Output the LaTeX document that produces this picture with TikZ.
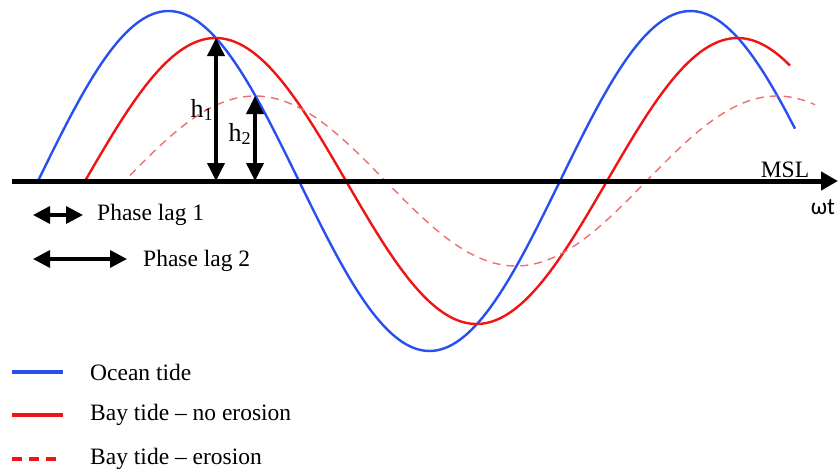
\documentclass[tikz,border=0pt]{standalone}
\usepackage{fontspec}
\setmainfont{Liberation Serif}
\newfontfamily\omegafont{Carlito}
\usetikzlibrary{arrows.meta,positioning}

\begin{document}
\begin{tikzpicture}[x=1pt, y=-1pt,
      txt/.style={font=\fontsize{23.5}{27}\selectfont, inner sep=0pt},
      hlbl/.style={font=\fontsize{26}{30}\selectfont, inner sep=0pt},
      tide/.style={line width=2.4pt},
      ocean/.style={tide, draw={rgb,255:red,40;green,80;blue,240}},
      bay/.style={tide, draw={rgb,255:red,240;green,20;blue,20}},
      baydash/.style={line width=1.4pt, draw={rgb,255:red,240;green,110;blue,110},
        dash pattern=on 8pt off 6pt},
      height/.style={{Triangle[length=18pt,width=17pt]}-{Triangle[length=18pt,width=17pt]},
        line width=3.6pt},
      lag/.style={{Triangle[length=17pt,width=17pt]}-{Triangle[length=17pt,width=17pt]},
        line width=3.4pt},
    ]
    \useasboundingbox (0,0) rectangle (838,474);

    % Tide curves
    \draw[ocean] plot[domain=38:795, samples=200]
      (\x, {181-170*sin((\x-38)/522*360)});
    \draw[bay] plot[domain=85:790, samples=200]
      (\x, {181-143*sin((\x-85)/522*360)});
    \draw[baydash] plot[domain=130:815, samples=200]
      (\x, {181-85*sin((\x-124.5)/522*360)});

    % Mean sea level
    \coordinate (msl0) at (12,181);
    \coordinate (msl1) at (838,181);
    \draw[line width=5pt, -{Triangle[length=17pt,width=18pt]}] (msl0) -- (msl1);
    \node[txt, anchor=base] (msl) at (785,177) {MSL};
    \node[txt, anchor=base] (wt) at (823,214) {\omegafont ωt};

    % Amplitudes
    \coordinate (h1top) at (216,38);
    \coordinate (h1bot) at (216,181);
    \coordinate (h2top) at (255,96);
    \coordinate (h2bot) at (255,181);
    \draw[height] (h1bot) -- (h1top);
    \draw[height] (h2bot) -- (h2top);
    \node[hlbl] (h1) at (202,110) {h\textsubscript{1}};
    \node[hlbl] (h2) at (240,134) {h\textsubscript{2}};

    % Phase lags
    \coordinate (lag1a) at (33,215);
    \coordinate (lag1b) at (83,215);
    \coordinate (lag2a) at (33,259);
    \coordinate (lag2b) at (127,259);
    \draw[lag] (lag1a) -- (lag1b);
    \draw[lag] (lag2a) -- (lag2b);
    \node[txt, anchor=west] (lag1) at (97,215) {Phase lag 1};
    \node[txt, anchor=west] (lag2) at (143,261) {Phase lag 2};

    % Legend
    \foreach \y/\name/\words in {372/leg1/Ocean tide,
                                 415/leg2/Bay tide -- no erosion,
                                 459/leg3/Bay tide -- erosion} {
      \coordinate (\name a) at (12,\y);
      \coordinate (\name b) at (63,\y);
      \node[txt, anchor=west] (\name) at (90,\y) {\words};
    }
    \draw[ocean, line width=3.4pt] (leg1a) -- (leg1b);
    \draw[bay, line width=3.4pt] (leg2a) -- (leg2b);
    \draw[bay, line width=3.4pt, dash pattern=on 10pt off 7pt] (leg3a) -- (leg3b);
  \end{tikzpicture}
\end{document}
